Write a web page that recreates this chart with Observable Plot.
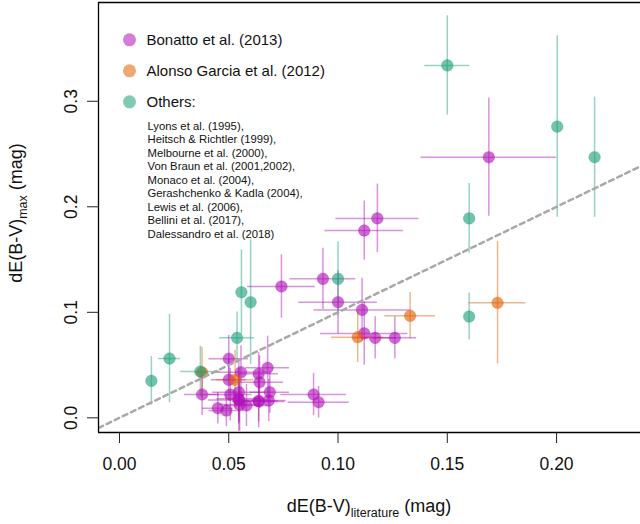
<!DOCTYPE html>
<html><head><meta charset="utf-8">
<script src="https://cdn.jsdelivr.net/npm/d3@7"></script>
<script src="https://cdn.jsdelivr.net/npm/@observablehq/plot@0.6"></script>
<style>body{margin:0;background:#fff;}#chart{width:640px;height:524px;}</style>
</head><body><div id="chart"></div>
<script>
const groupNames = ["Bonatto et al. (2013)", "Alonso Garcia et al. (2012)", "Others:"];
const groupColors = ["#B010B8", "#E06000", "#1B9E77"];
const othersRefs = ["Lyons et al. (1995),", "Heitsch & Richtler (1999),", "Melbourne et al. (2000),", "Von Braun et al. (2001,2002),", "Monaco et al. (2004),", "Gerashchenko & Kadla (2004),", "Lewis et al. (2006),", "Bellini et al. (2017),", "Dalessandro et al. (2018)"];

// Bonatto et al. (2013)
const bonX = [0.169, 0.118, 0.112, 0.0931, 0.0741, 0.100, 0.111, 0.112, 0.117, 0.126, 0.050, 0.0556, 0.0678, 0.0637, 0.0641, 0.050, 0.0378, 0.0507, 0.0546, 0.0688, 0.0546, 0.0546, 0.0637, 0.0637, 0.0683, 0.045, 0.0489, 0.0581, 0.055, 0.0888, 0.0911];
const bonY = [0.247, 0.189, 0.1775, 0.1317, 0.1245, 0.1096, 0.1023, 0.080, 0.0758, 0.0758, 0.056, 0.0432, 0.0474, 0.0417, 0.0337, 0.036, 0.0221, 0.0221, 0.0243, 0.0243, 0.017, 0.018, 0.0155, 0.016, 0.0164, 0.0091, 0.0069, 0.0117, 0.0126, 0.0221, 0.0148];
const bonXErr = [0.031, 0.019, 0.018, 0.015, 0.0155, 0.018, 0.022, 0.02, 0.01, 0.01, 0.009, 0.012, 0.010, 0.009, 0.011, 0.008, 0.008, 0.01, 0.012, 0.009, 0.014, 0.01, 0.012, 0.009, 0.008, 0.007, 0.008, 0.01, 0.009, 0.015, 0.014];
const bonYErr = [0.056, 0.0325, 0.028, 0.029, 0.030, 0.03, 0.03, 0.03, 0.02, 0.02, 0.022, 0.025, 0.03, 0.02, 0.025, 0.02, 0.02, 0.025, 0.03, 0.02, 0.03, 0.022, 0.025, 0.02, 0.02, 0.015, 0.015, 0.02, 0.025, 0.02, 0.015];

// Alonso Garcia et al. (2012)
const alonsoX = [0.173, 0.133, 0.109, 0.0529, 0.0378];
const alonsoY = [0.109, 0.0967, 0.0764, 0.036, 0.043];
const alonsoXErr = [0.013, 0.0116, 0.012, 0.0085, 0.003];
const alonsoYErr = [0.058, 0.022, 0.024, 0.028, 0.024];

// Others
const othersX = [0.150, 0.2003, 0.2174, 0.160, 0.160, 0.100, 0.0558, 0.060, 0.0538, 0.037, 0.0229, 0.0146];
const othersY = [0.334, 0.276, 0.247, 0.189, 0.096, 0.1317, 0.119, 0.1096, 0.0758, 0.0439, 0.0562, 0.035];
const othersXErr = [0.0103, 0, 0, 0, 0, 0, 0, 0, 0.008, 0.009, 0.005, 0];
const othersYErr = [0.047, 0.086, 0.057, 0.033, 0.022, 0.035, 0.04, 0.059, 0.0245, 0.024, 0.042, 0.023];

const xTicks = [0, 0.05, 0.10, 0.15, 0.20];
const yTicks = [0, 0.1, 0.2, 0.3];
const xDomain = [-0.0096, 0.2384];
const yDomain = [-0.0139, 0.3936];

function build(xs, ys, xe, ye, gi) {
  return xs.map((x, i) => ({x, y: ys[i], xe: xe[i], ye: ye[i], c: groupColors[gi]}));
}
const rows = [
  ...build(bonX, bonY, bonXErr, bonYErr, 0),
  ...build(alonsoX, alonsoY, alonsoXErr, alonsoYErr, 1),
  ...build(othersX, othersY, othersXErr, othersYErr, 2)
];
const font = "Liberation Sans, Arial, Helvetica, sans-serif";

const marks = [
  Plot.ruleY(rows.filter(d => d.xe > 0), {y: "y", x1: d => d.x - d.xe, x2: d => d.x + d.xe, stroke: "c", strokeOpacity: 0.45, strokeWidth: 1.5}),
  Plot.ruleX(rows.filter(d => d.ye > 0), {x: "x", y1: d => d.y - d.ye, y2: d => d.y + d.ye, stroke: "c", strokeOpacity: 0.45, strokeWidth: 1.5}),
  Plot.dot(rows, {x: "x", y: "y", r: 5.8, fill: "c", fillOpacity: 0.62, stroke: "c", strokeOpacity: 0.3, strokeWidth: 1}),
  Plot.line([xDomain[0], xDomain[1]], {x: d => d, y: d => d, stroke: "#a8a8a8", strokeWidth: 2.5, strokeDasharray: "5,4", clip: true}),
  Plot.ruleX([xDomain[0]], {stroke: "#000", strokeWidth: 1.3}),
  Plot.ruleY([yDomain[0], yDomain[1]], {stroke: "#000", strokeWidth: 1.3}),
  Plot.axisX({ticks: xTicks, tickFormat: d3.format(".2f"), tickSize: 11, tickPadding: 14, fontSize: 17.5, label: null, stroke: "#222"}),
  Plot.axisY({ticks: yTicks, tickFormat: () => "", tickSize: 11, label: null, stroke: "#222"}),
  Plot.text(yTicks, {y: d => d, text: d => d3.format(".1f")(d), frameAnchor: "left", dx: -27, rotate: -90, fontSize: 17.5, textAnchor: "middle", fill: "#111"}),
];
groupNames.forEach((g, i) => {
  marks.push(Plot.dot([g], {frameAnchor: "top-left", dx: 31, dy: 37.3 + i * 31, r: 6.5, fill: groupColors[i], fillOpacity: 0.55}));
  marks.push(Plot.text([g], {frameAnchor: "top-left", dx: 48, dy: 37.3 + i * 31, text: d => d, textAnchor: "start", lineAnchor: "middle", fontSize: 15, fill: "#111"}));
});
marks.push(Plot.text([othersRefs.join("\n")], {frameAnchor: "top-left", dx: 49, dy: 118, text: d => d, textAnchor: "start", lineAnchor: "top", lineHeight: 1.19, fontSize: 11.3, fill: "#111"}));

const svg = Plot.plot({
  width: 640, height: 524,
  marginLeft: 98, marginRight: 0, marginTop: 2, marginBottom: 92,
  style: {fontFamily: font, background: "#fff", color: "#111"},
  x: {domain: xDomain, axis: null},
  y: {domain: yDomain, axis: null},
  color: {type: "identity"},
  marks
});

const s = d3.select(svg);
const xt = s.append("text").attr("x", 369).attr("y", 512).attr("text-anchor", "middle")
  .attr("font-family", font).attr("font-size", 18).attr("fill", "#111");
xt.append("tspan").text("dE(B-V)");
xt.append("tspan").attr("font-size", 12.5).attr("dy", 5).text("literature");
xt.append("tspan").attr("dy", -5).text(" (mag)");
const yt = s.append("text").attr("transform", "translate(22,213) rotate(-90)").attr("text-anchor", "middle")
  .attr("font-family", font).attr("font-size", 18).attr("fill", "#111");
yt.append("tspan").text("dE(B-V)");
yt.append("tspan").attr("font-size", 12.5).attr("dy", 5).text("max");
yt.append("tspan").attr("dy", -5).text(" (mag)");

document.getElementById("chart").appendChild(svg);
</script>
</body></html>
